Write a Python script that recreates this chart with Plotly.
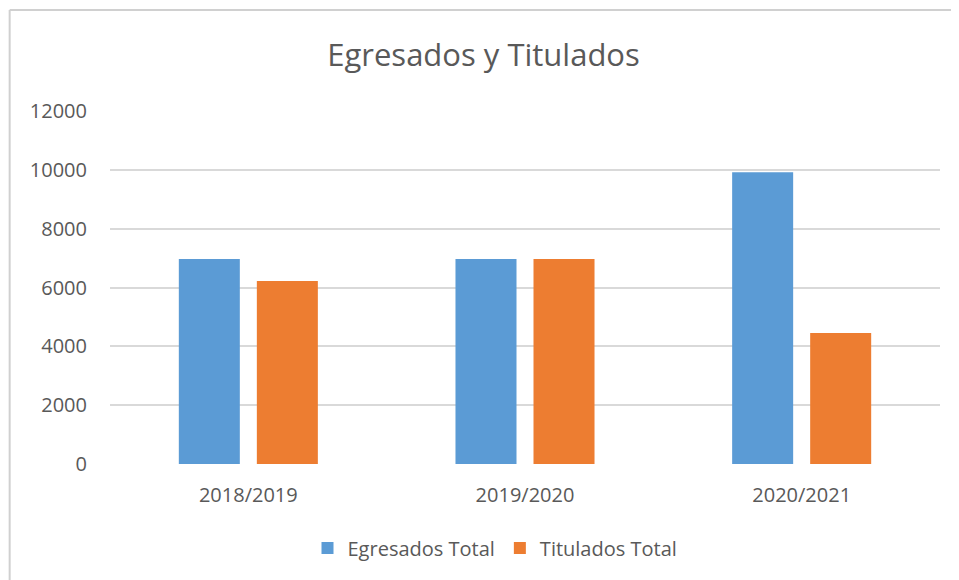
import plotly.graph_objects as go

categories = ["2018/2019", "2019/2020", "2020/2021"]
egresados = [6970, 6970, 9920]
titulados = [6220, 6970, 4450]
y_ticks = [0, 2000, 4000, 6000, 8000, 10000, 12000]

OFF = 8  # browser body margin
W, H = 959 - OFF, 580 - OFF
L, R, T, B = 110 - OFF, 19, 111 - OFF, 116
pw, ph = W - L - R, H - T - B

fig = go.Figure()
fig.add_trace(go.Bar(name="Egresados Total", x=categories, y=egresados,
                     marker=dict(color="#5B9BD5", line=dict(width=0))))
fig.add_trace(go.Bar(name="Titulados Total", x=categories, y=titulados,
                     marker=dict(color="#ED7D31", line=dict(width=0))))

bx = (8 - OFF - L) / pw + 0.002
by_top = 1 + (T - (10 - OFF)) / ph
by_bot = -(H - T - ph) / ph - 0.01
bx_right = 1 + (R + 5) / pw

fig.update_layout(
    width=W, height=H,
    margin=dict(l=L, r=R, t=T, b=B),
    paper_bgcolor="white", plot_bgcolor="white",
    font=dict(family="Open Sans", color="#595959", size=20),
    title=dict(text="Egresados y Titulados", x=0.5, xanchor="center",
               y=1 - (55 - OFF) / H, yanchor="middle",
               font=dict(size=31, color="#595959")),
    barmode="group", bargap=0.436, bargroupgap=0.218,
    showlegend=True,
    legend=dict(orientation="h", x=(495 - OFF - L) / pw, xanchor="center",
                y=(T + ph - (548 - OFF)) / ph, yanchor="middle",
                font=dict(size=20, color="#595959"),
                itemwidth=30, tracegroupgap=0),
    xaxis=dict(showgrid=False, showline=False, zeroline=False,
               ticks="", ticklabelstandoff=17, tickfont=dict(size=20)),
    yaxis=dict(range=[0, 12000], tickvals=y_ticks, tickformat="d",
               showgrid=True, gridcolor="#D9D9D9", gridwidth=1.5,
               zeroline=False, showline=False, ticks="",
               ticklabelstandoff=22, tickfont=dict(size=20)),
    shapes=[
        dict(type="line", xref="paper", yref="paper", x0=bx, x1=bx,
             y0=by_bot, y1=by_top, line=dict(color="#D0D0D0", width=2)),
        dict(type="line", xref="paper", yref="paper", x0=bx, x1=bx_right,
             y0=by_top, y1=by_top, line=dict(color="#D0D0D0", width=2)),
    ],
)

fig.write_html("out.html")
